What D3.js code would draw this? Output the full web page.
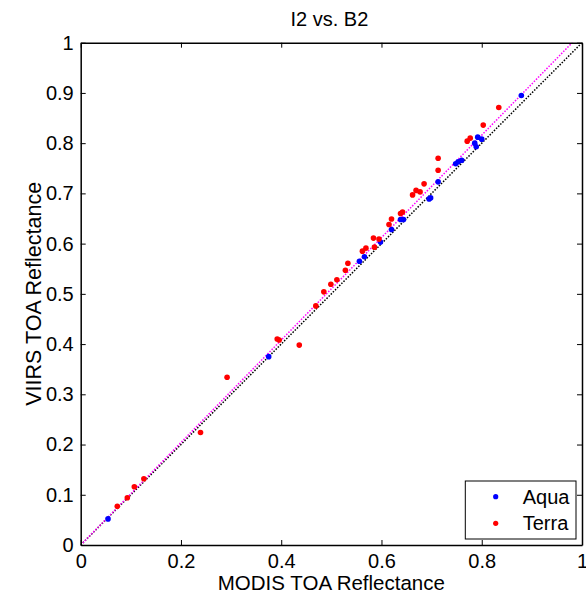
<!DOCTYPE html>
<html>
<head>
<meta charset="utf-8">
<script src="https://cdn.jsdelivr.net/npm/d3@7"></script>
<style>
  html, body { margin: 0; padding: 0; background: #fff; }
  svg { display: block; }
  text { font-family: "Liberation Sans", Arial, sans-serif; fill: #000; }
</style>
</head>
<body>
<div id="chart"></div>
<script>
// ---- Data ----
const title = "I2 vs. B2";
const xLabel = "MODIS TOA Reflectance";
const yLabel = "VIIRS TOA Reflectance";
const seriesNames = ["Aqua", "Terra"];
const seriesColors = ["#0000ff", "#ff0000"];

const aquaX = [0.0545, 0.375, 0.556, 0.566, 0.598, 0.620, 0.638, 0.644, 0.695, 0.698, 0.713, 0.748, 0.753, 0.760, 0.786, 0.789, 0.792, 0.800, 0.879];
const aquaY = [0.052, 0.375, 0.565, 0.574, 0.603, 0.628, 0.648, 0.648, 0.689, 0.691, 0.723, 0.759, 0.763, 0.766, 0.800, 0.793, 0.812, 0.808, 0.895];

const terraX = [0.073, 0.093, 0.107, 0.126, 0.239, 0.292, 0.392, 0.396, 0.436, 0.469, 0.485, 0.499, 0.511, 0.528, 0.533, 0.562, 0.569, 0.584, 0.586, 0.595, 0.615, 0.620, 0.638, 0.642, 0.662, 0.669, 0.677, 0.685, 0.713, 0.713, 0.771, 0.777, 0.803, 0.834];
const terraY = [0.077, 0.094, 0.116, 0.132, 0.224, 0.334, 0.410, 0.408, 0.398, 0.476, 0.504, 0.519, 0.528, 0.547, 0.561, 0.585, 0.591, 0.611, 0.593, 0.609, 0.638, 0.649, 0.660, 0.663, 0.697, 0.706, 0.703, 0.719, 0.746, 0.770, 0.804, 0.810, 0.836, 0.871];

const fitSlope = 1.02;   // magenta regression line (through origin)
const xTicks = [0, 0.2, 0.4, 0.6, 0.8, 1];
const yTicks = [0, 0.1, 0.2, 0.3, 0.4, 0.5, 0.6, 0.7, 0.8, 0.9, 1];

// ---- Layout ----
const W = 586, H = 599;
const m = { left: 80.7, top: 42.7 };
const pw = 501.3, ph = 502.3;

const svg = d3.select("#chart").append("svg").attr("width", W).attr("height", H);

const x = d3.scaleLinear().domain([0, 1]).range([m.left, m.left + pw]);
const y = d3.scaleLinear().domain([0, 1]).range([m.top + ph, m.top]);

const fs = 20;
const tickFmt = d => d === 0 ? "0" : (d === 1 ? "1" : d3.format(".1f")(d));

svg.append("defs").append("clipPath").attr("id", "clip")
  .append("rect").attr("x", x(0)).attr("y", y(1)).attr("width", pw).attr("height", ph);

// reference lines
const g = svg.append("g").attr("clip-path", "url(#clip)");
const line = d3.line().x(d => x(d[0])).y(d => y(d[1]));
g.append("path").attr("d", line([[0, 0], [1, 1]]))
  .attr("stroke", "#000").attr("stroke-width", 1.5).attr("stroke-dasharray", "1.5,1.5").attr("fill", "none");
g.append("path").attr("d", line([[0, 0], [1, fitSlope]]))
  .attr("stroke", "#ff00ff").attr("stroke-width", 1.5).attr("stroke-dasharray", "1.5,1.5").attr("fill", "none");

// points
const aqua = aquaX.map((v, i) => [v, aquaY[i]]);
const terra = terraX.map((v, i) => [v, terraY[i]]);
g.selectAll("circle.aqua").data(aqua).enter().append("circle")
  .attr("cx", d => x(d[0])).attr("cy", d => y(d[1])).attr("r", 2.8).attr("fill", seriesColors[0]);
g.selectAll("circle.terra").data(terra).enter().append("circle")
  .attr("cx", d => x(d[0])).attr("cy", d => y(d[1])).attr("r", 2.8).attr("fill", seriesColors[1]);

// axes (MATLAB style: inward ticks, box)
const tl = 5;
const axB = d3.axisBottom(x).tickValues(xTicks).tickSizeInner(-tl).tickSizeOuter(0).tickPadding(9).tickFormat(tickFmt);
const axT = d3.axisTop(x).tickValues(xTicks).tickSizeInner(-tl).tickSizeOuter(0).tickFormat("");
const axL = d3.axisLeft(y).tickValues(yTicks).tickSizeInner(-tl).tickSizeOuter(0).tickPadding(7).tickFormat(tickFmt);
const axR = d3.axisRight(y).tickValues(yTicks).tickSizeInner(-tl).tickSizeOuter(0).tickFormat("");

function style(sel) {
  sel.select(".domain").attr("stroke", "#000").attr("stroke-width", 1.5);
  sel.selectAll(".tick line").attr("stroke", "#000").attr("stroke-width", 1);
  sel.selectAll(".tick text").attr("font-size", fs).attr("font-family", "Liberation Sans, Arial, sans-serif").attr("fill", "#000");
}
svg.append("g").attr("transform", `translate(0,${y(0)})`).call(axB).call(style);
svg.append("g").attr("transform", `translate(0,${y(1)})`).call(axT).call(style);
svg.append("g").attr("transform", `translate(${x(0)},0)`).call(axL).call(style);
svg.append("g").attr("transform", `translate(${x(1)},0)`).call(axR).call(style);

// titles
svg.append("text").attr("x", x(0.5) - 2).attr("y", 26).attr("text-anchor", "middle").attr("font-size", 20).text(title);
svg.append("text").attr("x", x(0.5)).attr("y", 590).attr("text-anchor", "middle").attr("font-size", 20.5).text(xLabel);
svg.append("text").attr("transform", `translate(41,${y(0.5)}) rotate(-90)`).attr("text-anchor", "middle").attr("font-size", 21.5).text(yLabel);

// legend
const lg = svg.append("g");
lg.append("rect").attr("x", 465.3).attr("y", 481).attr("width", 110.7).attr("height", 58)
  .attr("fill", "#fff").attr("stroke", "#000").attr("stroke-width", 1);
seriesNames.forEach((n, i) => {
  const cy = 496.7 + i * 26.6;
  lg.append("circle").attr("cx", 495.7).attr("cy", cy).attr("r", 2.6).attr("fill", seriesColors[i]);
  lg.append("text").attr("x", 522.7).attr("y", cy + 7).attr("font-size", fs).text(n);
});
</script>
</body>
</html>
